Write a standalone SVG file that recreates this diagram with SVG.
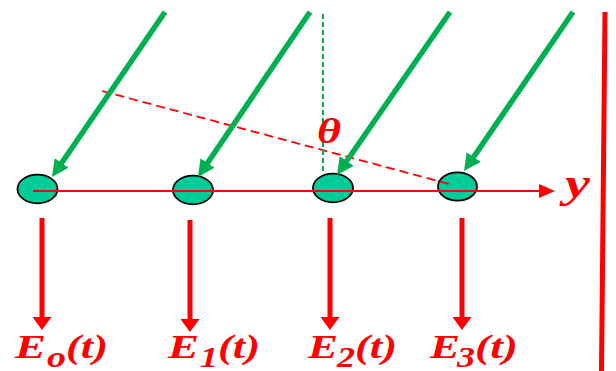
<svg xmlns="http://www.w3.org/2000/svg" width="616" height="371" viewBox="0 0 616 371">
<style>
.node{fill:#00CC99;stroke:#000;stroke-width:1.8}
.green{stroke:#00B050;stroke-width:5.5;fill:none;marker-end:url(#gh)}
.down{stroke:#FF0000;stroke-width:5;fill:none;marker-end:url(#rh)}
.axis{stroke:#FF0000;stroke-width:2;fill:none;marker-end:url(#ah)}
.rdash{stroke:#FF0000;stroke-width:1.8;stroke-dasharray:9 5;fill:none}
.gdash{stroke:#00B050;stroke-width:2;stroke-dasharray:5 3;fill:none}
text{font-family:'Liberation Serif','Times New Roman',serif;font-weight:700;font-style:italic;fill:#FF0000;font-size:33px}
.sub{font-size:30px}
</style>
<defs>
<marker id="gh" markerUnits="userSpaceOnUse" markerWidth="18" markerHeight="17" refX="10" refY="8.5" orient="auto"><path d="M0,0 L17,8.5 L0,17 Z" fill="#00B050"/></marker>
<marker id="rh" markerUnits="userSpaceOnUse" markerWidth="14" markerHeight="19" refX="7" refY="9.5" orient="auto"><path d="M0,0 L13,9.5 L0,19 Z" fill="#FF0000"/></marker>
<marker id="ah" markerUnits="userSpaceOnUse" markerWidth="17" markerHeight="14" refX="14" refY="7" orient="auto"><path d="M0,0 L16,7 L0,14 Z" fill="#FF0000"/></marker>
</defs>
<rect width="616" height="371" fill="#FFFFFF"/>
<line x1="605" y1="12" x2="601.5" y2="371" stroke="#FF0000" stroke-width="5"/>
<g id="nodes">
<g id="node0"><ellipse class="node" cx="37.5" cy="189" rx="20" ry="14.3"/></g>
<g id="node1"><ellipse class="node" cx="193" cy="190" rx="20" ry="14.3"/></g>
<g id="node2"><ellipse class="node" cx="333" cy="188" rx="20" ry="14.3"/></g>
<g id="node3"><ellipse class="node" cx="457.5" cy="186.5" rx="19.5" ry="14.2"/></g>
</g>
<g id="connectors">
<line class="axis" x1="33" y1="191" x2="553" y2="191"/>
<line class="rdash" x1="102" y1="91" x2="449" y2="184"/>
<line class="gdash" x1="323" y1="14" x2="323" y2="172"/>
<line class="green" x1="165" y1="12" x2="56" y2="171.2"/>
<line class="green" x1="310" y1="12" x2="201.9" y2="171.2"/>
<line class="green" x1="450" y1="12" x2="341" y2="169.2"/>
<line class="green" x1="573" y1="12" x2="468" y2="165.2"/>
<line class="down" x1="42" y1="218" x2="42" y2="324"/>
<line class="down" x1="190" y1="220" x2="190" y2="326"/>
<line class="down" x1="330" y1="218" x2="330" y2="324"/>
<line class="down" x1="462" y1="218" x2="462" y2="324"/>
</g>
<g id="labels">
<text style="font-size:35px" x="317" y="143" textLength="24" lengthAdjust="spacingAndGlyphs">θ</text>
<text style="font-size:40px" x="565" y="197" textLength="25" lengthAdjust="spacingAndGlyphs">y</text>
<g id="label-E0"><text x="15" y="358" textLength="31" lengthAdjust="spacingAndGlyphs">E</text><text class="sub" x="47" y="367" textLength="19" lengthAdjust="spacingAndGlyphs">o</text><text x="66" y="358" textLength="42" lengthAdjust="spacingAndGlyphs">(t)</text></g>
<g id="label-E1"><text x="168" y="358" textLength="31" lengthAdjust="spacingAndGlyphs">E</text><text class="sub" x="200" y="367" textLength="18" lengthAdjust="spacingAndGlyphs">1</text><text x="218" y="358" textLength="42" lengthAdjust="spacingAndGlyphs">(t)</text></g>
<g id="label-E2"><text x="308" y="358" textLength="30" lengthAdjust="spacingAndGlyphs">E</text><text class="sub" x="337" y="367" textLength="18" lengthAdjust="spacingAndGlyphs">2</text><text x="355" y="358" textLength="42" lengthAdjust="spacingAndGlyphs">(t)</text></g>
<g id="label-E3"><text x="430" y="358" textLength="30" lengthAdjust="spacingAndGlyphs">E</text><text class="sub" x="457" y="367" textLength="18" lengthAdjust="spacingAndGlyphs">3</text><text x="475" y="358" textLength="43" lengthAdjust="spacingAndGlyphs">(t)</text></g>
</g>
</svg>
